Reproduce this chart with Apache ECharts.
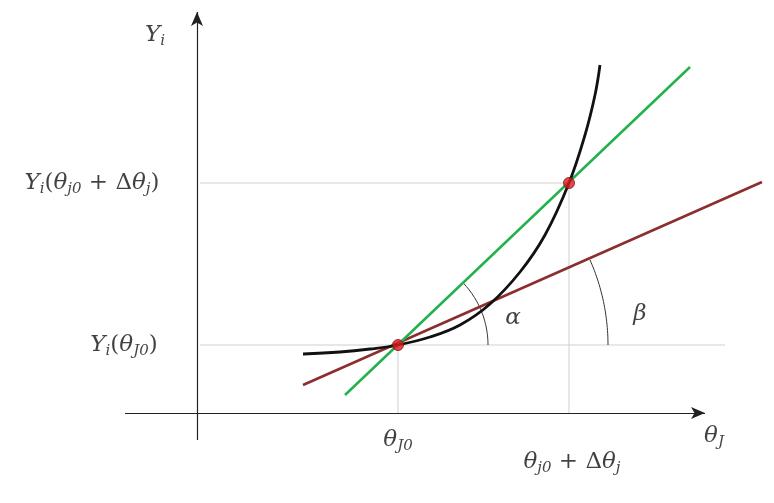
<!DOCTYPE html>
<html><head><meta charset="utf-8">
<script src="https://cdn.jsdelivr.net/npm/echarts@6/dist/echarts.min.js"></script>
<style>html,body{margin:0;padding:0;background:#fff}#c{width:774px;height:503px}</style>
</head><body><div id="c"></div>
<script>
const H = 503;
const curvePts = [[303,354],[340,352],[370,349],[398,345],[430,337],[460,325],[490,304],[520,272],[545,235],[569,183],[585,135],[595,95],[600,65]];
const greenLine = [[345,395],[690,67]];
const brownLine = [[303,385],[762,182]];
const points = [[398,345],[569,183]];
const yAxisLine = [[197,440],[197,12]];
const xAxisLine = [[125,413],[705,413]];
const guides = [
  [[200,183],[569,183]], [[200,345],[725,345]],
  [[398,345],[398,413]], [[569,183],[569,413]]
];
const arcs = [
  {c:[398,345], r:90, a0:0, a1:43.6},
  {c:[398,345], r:210, a0:0, a1:23.9}
];
const labels = [
  {p:[155,35], t:'{i|Y}{s|i}'},
  {p:[92,183], t:'{i|Y}{s|i}{n|(}{i|θ}{s|j0}{n| + Δ}{i|θ}{s|j}{n|)}'},
  {p:[124,345], t:'{i|Y}{s|i}{n|(}{i|θ}{s|J0}{n|)}'},
  {p:[398,440], t:'{i|θ}{s|J0}'},
  {p:[572,462], t:'{i|θ}{s|j0}{n| + Δ}{i|θ}{s|j}'},
  {p:[714,436], t:'{i|θ}{s|J}'},
  {p:[513,318], t:'{i|α}'},
  {p:[640,314], t:'{i|β}'}
];
const flip = a => a.map(p => [p[0], H - p[1]]);
function arcData(a){
  const out=[];
  for(let d=a.a0; d<=a.a1+0.01; d+= (a.a1-a.a0)/30){
    const r=d*Math.PI/180; out.push([a.c[0]+a.r*Math.cos(r), H-(a.c[1]-a.r*Math.sin(r))]);
  }
  return out;
}
const font = 'DejaVu Serif';
const rich = {
  i:{fontFamily:font,fontStyle:'italic',fontSize:23,color:'#111'},
  n:{fontFamily:font,fontSize:23,color:'#111'},
  s:{fontFamily:font,fontStyle:'italic',fontSize:15,color:'#111',verticalAlign:'bottom',padding:[12,0,0,0]}
};
const series = [];
const plain = (data, ls, extra) => Object.assign({type:'line',data:data,symbol:'none',showSymbol:false,lineStyle:ls,itemStyle:{color:ls.color},silent:true}, extra||{});
guides.forEach(g=>series.push(plain(flip(g),{color:'#cfcfcf',width:1})));
const ax = (seg) => ({type:'line',data:[],silent:true,markLine:{silent:true,symbol:['none','arrow'],symbolSize:[9,14],label:{show:false},animation:false,
  lineStyle:{color:'#222',width:1.2,type:'solid'},data:[[{coord:[seg[0][0],H-seg[0][1]]},{coord:[seg[1][0],H-seg[1][1]]}]]}});
series.push(ax(yAxisLine));
series.push(ax(xAxisLine));
arcs.forEach(a=>series.push(plain(arcData(a),{color:'#333',width:1})));
series.push(plain(flip(brownLine),{color:'#8b2e2e',width:2.5}));
series.push(plain(flip(greenLine),{color:'#22b14c',width:2.5}));
series.push(plain(flip(curvePts),{color:'#111',width:2.8},{smooth:0.4}));
series.push({type:'scatter',data:flip(points),symbolSize:11,itemStyle:{color:'#e0191e',borderColor:'#7a1010',borderWidth:1},z:10});
series.push({type:'scatter',symbolSize:0,data:labels.map(l=>({value:[l.p[0],H-l.p[1]],label:{show:true,position:'inside',formatter:l.t,rich:rich}}))});
const chart = echarts.init(document.getElementById('c'));
chart.setOption({
  animation:false,
  grid:{left:0,right:0,top:0,bottom:0},
  xAxis:{type:'value',min:0,max:774,show:false},
  yAxis:{type:'value',min:0,max:503,show:false},
  series:series
});
</script></body></html>
